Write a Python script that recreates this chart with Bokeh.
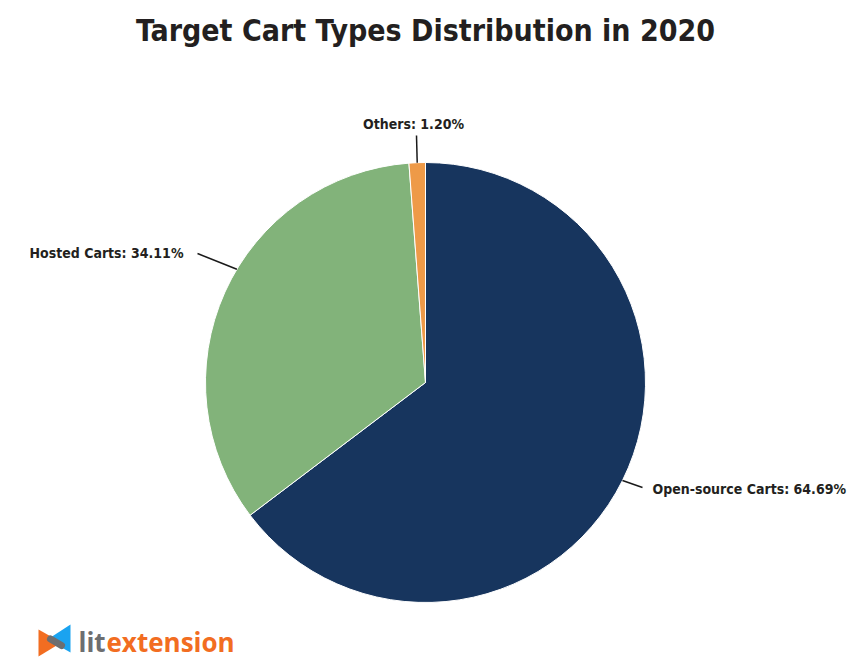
import math
from bokeh.plotting import figure
from bokeh.models import ColumnDataSource
from bokeh.core.properties import value
from bokeh.embed import file_html
from bokeh.resources import INLINE

# ---- data ----
categories = ["Open-source Carts", "Hosted Carts", "Others"]
shares = [64.69, 34.11, 1.20]
colors = ["#17355e", "#82b37a", "#ee9a48"]
title_text = "Target Cart Types Distribution in 2020"

# ---- layout (pixel space of the plot) ----
W, H = 850, 669
CX, CY, R = 425, 287, 220
FONT = "DejaVu Sans Condensed"

p = figure(width=W, height=H, x_range=(0, W), y_range=(0, H),
           output_backend="svg", toolbar_location=None, min_border=0)
p.axis.visible = False
p.grid.visible = False
p.outline_line_color = None
p.background_fill_color = "white"

total = sum(shares)
starts, ends, mids = [], [], []
a = math.pi / 2
for s in shares:
    sweep = 2 * math.pi * s / total
    starts.append(a)
    ends.append(a - sweep)
    mids.append(a - sweep / 2)
    a -= sweep

src = ColumnDataSource(dict(cat=categories, start=starts, end=ends, color=colors,
                            x=[CX] * 3, y=[CY] * 3))
p.wedge(x="x", y="y", radius=R, start_angle="start", end_angle="end",
        direction="clock", fill_color="color", line_color="white", line_width=1,
        source=src)

# label placement: angle tweak, connector end, text anchor, alignment
label_layout = {
    "Open-source Carts": dict(shift=0.0, end=(642, 182), txt=(652, 181), align="left"),
    "Hosted Carts": dict(shift=-6.7, end=(197, 416), txt=(183, 417), align="right"),
    "Others": dict(shift=0.0, end=(416, 534), txt=(413, 546), align="center"),
}
for cat, s, m in zip(categories, shares, mids):
    L = label_layout[cat]
    ang = m + math.radians(L["shift"])
    sx, sy = CX + R * math.cos(ang), CY + R * math.sin(ang)
    ex, ey = L["end"]
    p.line([sx, ex], [sy, ey], line_color="#1a1a1a", line_width=1.5)
    p.text(x=[L["txt"][0]], y=[L["txt"][1]], text=[f"{cat}: {s:.2f}%"],
           text_font=value(FONT), text_font_style="bold", text_font_size="14px",
           text_color="#231f20", text_align=L["align"], text_baseline="middle")

# title
p.text(x=[W / 2], y=[639], text=[title_text], text_font=value(FONT),
       text_font_style="bold", text_font_size="30px", text_color="#231f20",
       text_align="center", text_baseline="middle")

# logo
p.patch([38, 38, 61], [40, 13, 27], fill_color="#f26d21", line_color=None)
p.patch([70, 70, 47], [45, 17, 30], fill_color="#1aa3f0", line_color=None)
p.line([50, 61], [30.5, 24], line_color="#6d6e70", line_width=7, line_cap="round")
p.text(x=[78], y=[28], text=["lit"], text_font=value("Open Sans"), text_font_style="bold",
       text_font_size="26px", text_color="#6d6e70", text_baseline="middle")
p.text(x=[106], y=[28], text=["extension"], text_font=value("Open Sans"), text_font_style="bold",
       text_font_size="26px", text_color="#f26d21", text_baseline="middle")

open("out.html", "w").write(file_html(p, INLINE))
